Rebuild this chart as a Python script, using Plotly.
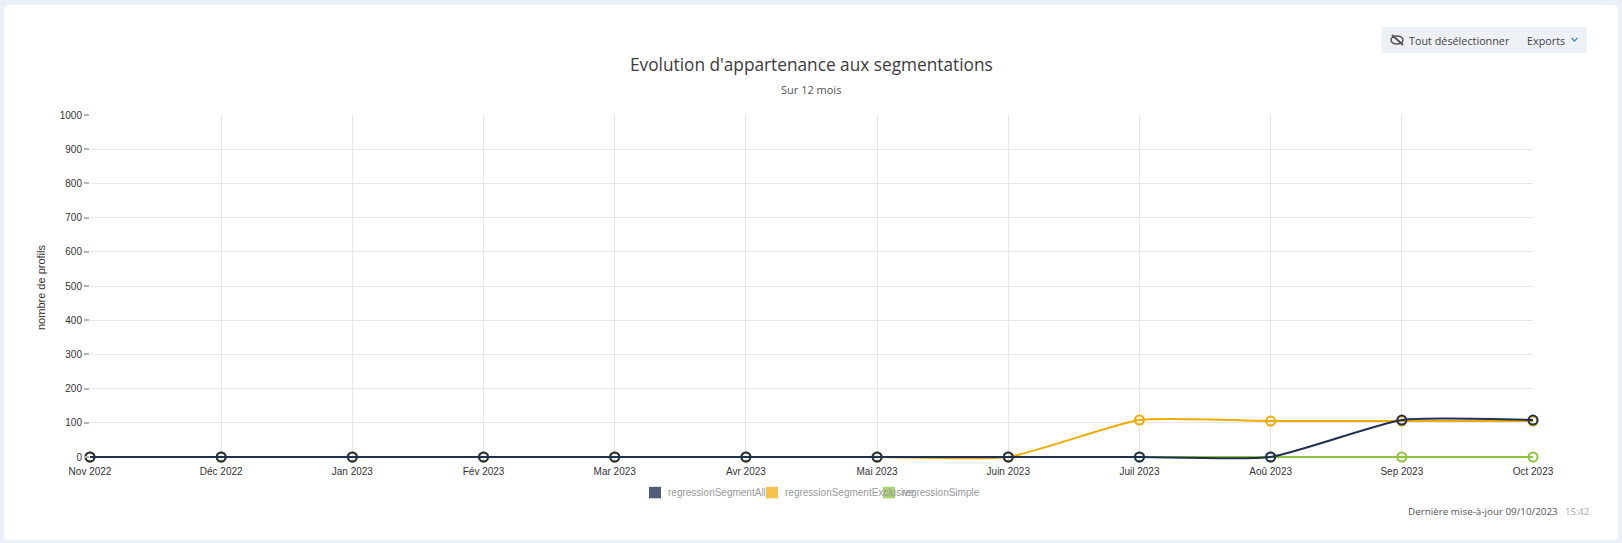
import plotly.graph_objects as go

W, H = 1622, 543
L, R, T, ZERO = 90, 1533, 115, 456.7
EXT = 3.0                      # room under the zero line so that its full width is drawn
B = ZERO + EXT
y_floor = -EXT / (ZERO - T) * 1000

months = ["Nov 2022", "Déc 2022", "Jan 2023", "Fév 2023", "Mar 2023", "Avr 2023",
          "Mai 2023", "Juin 2023", "Juil 2023", "Aoû 2023", "Sep 2023", "Oct 2023"]
segment_all = [0, 0, 0, 0, 0, 0, 0, 0, 0, 0, 108, 108]
segment_exclusive = [0, 0, 0, 0, 0, 0, 0, 0, 108, 105, 105, 105]
simple = [0, 0, 0, 0, 0, 0, 0, 0, 0, 0, 0, 0]
y_ticks = list(range(0, 1001, 100))

NAVY, ORANGE, GREEN = "#1f3050", "#f0ab00", "#8cc63f"
series = [("regressionSimple", simple, GREEN),
          ("regressionSegmentExclusive", segment_exclusive, ORANGE),
          ("regressionSegmentAll", segment_all, NAVY)]
legend_items = [("regressionSegmentAll", "#505e7a", 649, 665.5),
                ("regressionSegmentExclusive", "#f3c14c", 766, 782.5),
                ("regressionSimple", "#a9d46f", 883, 900)]


def px(x):
    return (x - L) / (R - L)


def py(y):
    return (B - y) / (B - T)


def P(*pts):
    return " ".join(("M" if i == 0 else "L") + f"{px(x):.5f},{py(y):.5f}" for i, (x, y) in enumerate(pts))


fig = go.Figure()
for name, vals, col in series:
    fig.add_trace(go.Scatter(
        x=months, y=vals, name=name, mode="lines+markers", cliponaxis=False, showlegend=False,
        line=dict(color=col, width=2, shape="spline", smoothing=0.5),
        marker=dict(symbol="circle-open", size=9, color=col, line=dict(color=col, width=2)),
    ))

# card
c0, c1, d0, d1, r = 4, 1618, 5, 540, 5
card = (f"M{px(c0+r)},{py(d0)} L{px(c1-r)},{py(d0)} Q{px(c1)},{py(d0)} {px(c1)},{py(d0+r)} "
        f"L{px(c1)},{py(d1-r)} Q{px(c1)},{py(d1)} {px(c1-r)},{py(d1)} L{px(c0+r)},{py(d1)} "
        f"Q{px(c0)},{py(d1)} {px(c0)},{py(d1-r)} L{px(c0)},{py(d0+r)} Q{px(c0)},{py(d0)} {px(c0+r)},{py(d0)} Z")
shapes = [dict(type="path", xref="paper", yref="paper", path=card, fillcolor="#ffffff",
               line=dict(width=0), layer="below")]


def rect(x0, y0, x1, y1, col, layer="above"):
    return dict(type="rect", xref="paper", yref="paper", x0=px(x0), x1=px(x1), y0=py(y0), y1=py(y1),
                fillcolor=col, line=dict(width=0), layer=layer)


shapes.append(rect(1381, 27, 1587, 53, "#edf0f4", "below"))
# eye-off icon
shapes.append(dict(type="circle", xref="paper", yref="paper", x0=px(1391), x1=px(1403), y0=py(36), y1=py(44),
                   line=dict(color="#555555", width=1.5), fillcolor="rgba(0,0,0,0)"))
shapes.append(dict(type="path", xref="paper", yref="paper", path=P((1392, 35), (1403, 45)),
                   line=dict(color="#555555", width=2)))
# chevron
shapes.append(dict(type="path", xref="paper", yref="paper", path=P((1571.5, 38), (1574.5, 41), (1577.5, 38)),
                   line=dict(color="#4a90d0", width=1.5)))
for _, col, sx, _t in legend_items:
    shapes.append(rect(sx, 486.5, sx + 12, 498, col))


def note(text, x, y, size, color, family="Open Sans", anchor="left"):
    return dict(text=text, xref="paper", yref="paper", x=px(x), y=py(y), xanchor=anchor, yanchor="middle",
                showarrow=False, font=dict(family=family, size=size, color=color))


annotations = [
    note("Evolution d'appartenance aux segmentations", 811.5, 65, 17.25, "#3c3c3c", anchor="center"),
    note("Sur 12 mois", 811, 90, 11, "#555555", anchor="center"),
    note("Tout désélectionner", 1407, 41, 10.8, "#444444"),
    note("Exports", 1525, 41, 10.8, "#444444"),
    note("Dernière mise-à-jour 09/10/2023", 1560, 511, 9.85, "#555555", anchor="right"),
    note("15:42", 1563, 511, 9.5, "#aaaaaa"),
]
for name, _c, _s, tx in legend_items:
    annotations.append(note(name, tx, 492.5, 10, "#999999", "Liberation Sans"))

fig.update_layout(
    width=W, height=H, autosize=False,
    margin=dict(l=L, r=W - R, t=T, b=H - B, pad=0),
    paper_bgcolor="#ebf0f8", plot_bgcolor="rgba(0,0,0,0)",
    shapes=shapes, annotations=annotations, showlegend=False,
    font=dict(family="Liberation Sans", size=10, color="#333333"),
    xaxis=dict(type="category", categoryorder="array", categoryarray=months, range=[0, 11],
               tickmode="array", tickvals=months, ticktext=months, showgrid=True, gridcolor="#e6e6e6", gridwidth=1,
               zeroline=False, showline=False, ticks="outside", ticklen=2, tickcolor="rgba(0,0,0,0)",
               tickfont=dict(size=10, color="#333333")),
    yaxis=dict(range=[y_floor, 1000], tickmode="array", tickvals=y_ticks, showgrid=True, gridcolor="#e6e6e6", gridwidth=1,
               zeroline=False, showline=False, ticks="outside", ticklen=5, tickcolor="#b5b5b5", tickwidth=1.5,
               tickfont=dict(size=10, color="#333333"),
               title=dict(text="nombre de profils", font=dict(size=11, color="#333333"), standoff=11)),
)
fig.write_html("out.html", config=dict(displayModeBar=False),
               post_script="document.body.style.margin='0';document.body.style.background='#ebf0f8';")
